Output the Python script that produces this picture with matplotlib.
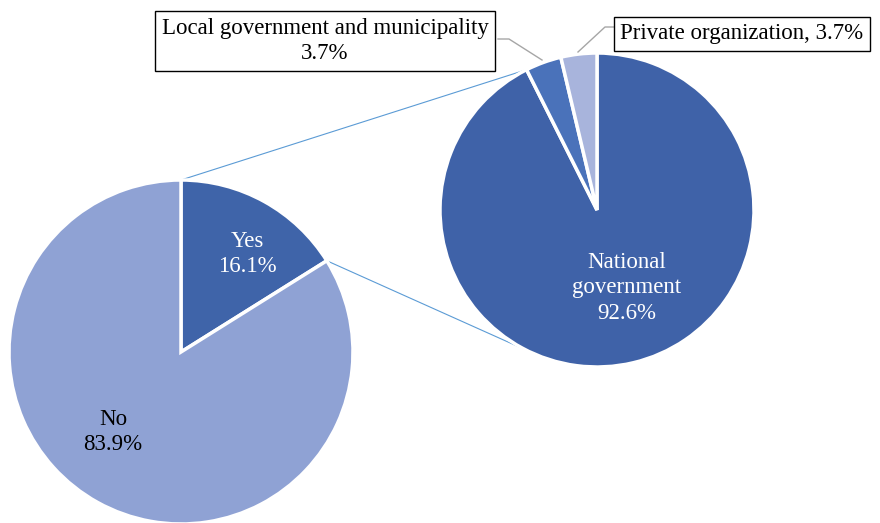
import matplotlib.pyplot as plt
import numpy as np

plt.rcParams['font.family'] = ['Liberation Serif', 'DejaVu Serif']

# -----------------------------------------------------------------------------
# data
# -----------------------------------------------------------------------------
main_labels = ['Yes', 'No']
main_values = [16.1, 83.9]
main_colors = ['#3f64a9', '#8fa2d4']

sub_labels = ['National\ngovernment', 'Local government and municipality', 'Private organization']
sub_values = [92.6, 3.7, 3.7]
sub_colors = ['#3f62a8', '#4a72ba', '#a8b4dc']

H = 523

fig = plt.figure(figsize=(8.8, 5.23), dpi=100)
ax = fig.add_axes([0, 0, 1, 1])

# left pie (Yes / No)
c1 = (181, H - 352)
r1 = 172
w1, _ = ax.pie(main_values, colors=main_colors, startangle=90, counterclock=False,
               center=c1, radius=r1, wedgeprops=dict(edgecolor='white', linewidth=2.5))

# right pie (breakdown of Yes)
c2 = (597, H - 210)
r2 = 157
w2, _ = ax.pie(sub_values, colors=sub_colors, startangle=90, counterclock=False,
               center=c2, radius=r2, wedgeprops=dict(edgecolor='white', linewidth=2.5))

# connection lines between the two pies
a_yes = np.deg2rad(90 - 360 * main_values[0] / 100)
a_top = np.deg2rad(90 - 360 * sub_values[0] / 100)
p_top = (c2[0] + r2 * np.cos(a_top), c2[1] + r2 * np.sin(a_top))
p_bot = (c2[0] + r2 * np.cos(a_top), c2[1] - r2 * np.sin(a_top))
ax.plot([c1[0], p_top[0]], [c1[1] + r1, p_top[1]], color='#5b9bd5', lw=0.8, zorder=0)
ax.plot([c1[0] + r1 * np.cos(a_yes), p_bot[0]], [c1[1] + r1 * np.sin(a_yes), p_bot[1]],
        color='#5b9bd5', lw=0.8, zorder=0)

fs = 16.5
ls = 1.3
ax.text(247, H - 254, 'Yes\n%.1f%%' % main_values[0], color='white', fontsize=fs,
        ha='center', va='center', linespacing=ls)
ax.text(113, H - 432, 'No\n%.1f%%' % main_values[1], color='black', fontsize=fs,
        ha='center', va='center', linespacing=ls)
ax.text(627, H - 288, '%s\n%.1f%%' % (sub_labels[0], sub_values[0]), color='white',
        fontsize=fs, ha='center', va='center', linespacing=ls)

# leader lines for the small slices
ax.plot([498, 509, 542], [H - 39, H - 39, H - 60], color='#a6a6a6', lw=1)
ax.plot([578, 605, 614], [H - 52, H - 27, H - 27], color='#a6a6a6', lw=1)

box = dict(boxstyle='square,pad=0.3', fc='white', ec='black', lw=1)
ax.text(325, H - 41, '%s\n%.1f%%' % (sub_labels[1], sub_values[1]), fontsize=fs,
        ha='center', va='center', linespacing=ls, bbox=box)
ax.text(742, H - 34, '%s, %.1f%%' % (sub_labels[2], sub_values[2]), fontsize=fs,
        ha='center', va='center', bbox=box)

ax.set_xlim(0, 880)
ax.set_ylim(0, H)
ax.set_aspect('auto')
ax.axis('off')

fig.savefig('out.png', dpi=100)
